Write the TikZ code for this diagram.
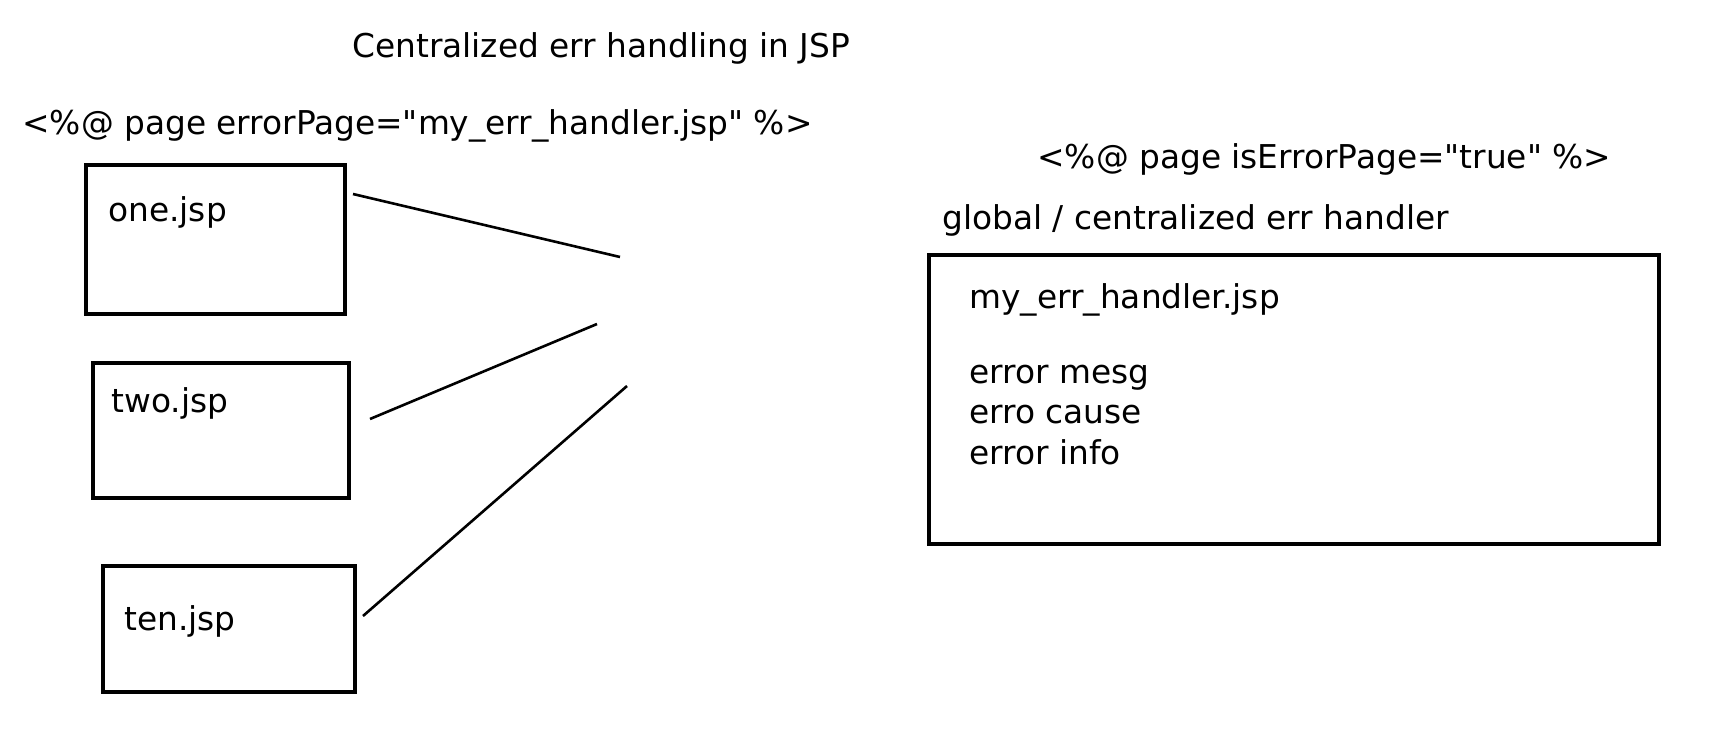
\documentclass[tikz,border=0pt]{standalone}
\usepackage{fontspec}
\newfontfamily\djv{DejaVu Sans}
\begin{document}
\begin{tikzpicture}[x=0.5pt,y=-0.5pt,
  box/.style={draw, line width=1.6pt},
  txt/.style={anchor=west, inner sep=0pt, font=\djv\fontsize{16.4pt}{19pt}\selectfont},
  link/.style={line width=1.3pt}]
\useasboundingbox[fill=white] (0,0) rectangle (1734,739);
% headings
\node[txt] (title) at (352,48) {Centralized err handling in JSP};
\node[txt] (dir1) at (22,126) {<\%@ page errorPage="my\_err\_handler.jsp" \%>};
\node[txt] (dir2) at (1037,159) {<\%@ page isErrorPage="true" \%>};
\node[txt] (glob) at (942,220) {global / centralized err handler};
% boxes
\draw[box] (86,165) rectangle (345,314);
\node[txt] (one) at (108,212) {one.jsp};
\draw[box] (93,363) rectangle (349,498);
\node[txt] (two) at (111,403) {two.jsp};
\draw[box] (103,566) rectangle (355,692);
\node[txt] (ten) at (124,621) {ten.jsp};
\draw[box] (929,255) rectangle (1659,544);
\node[txt] (handler) at (969,300) {my\_err\_handler.jsp};
\node[txt] (mesg) at (969,378) {error mesg};
\node[txt] (cause) at (969,415) {erro cause};
\node[txt] (info) at (969,452) {error info};
% connectors
\coordinate (s1) at (353,194); \coordinate (e1) at (620,257);
\coordinate (s2) at (370,419); \coordinate (e2) at (597,324);
\coordinate (s3) at (363,616); \coordinate (e3) at (627,386);
\draw[link] (s1) -- (e1);
\draw[link] (s2) -- (e2);
\draw[link] (s3) -- (e3);
\end{tikzpicture}
\end{document}
